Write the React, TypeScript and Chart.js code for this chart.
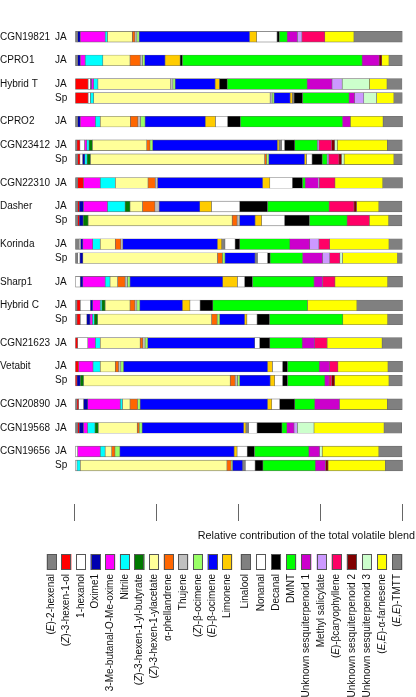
import React, { useEffect, useRef } from 'react';
import { Chart, registerables } from 'chart.js';

Chart.register(...registerables);

const FONT = '"Liberation Sans", Arial, Helvetica, sans-serif';

// Compounds (stack order = legend order)
const compounds = [
  '(E)-2-hexenal', '(Z)-3-hexen-1-ol', '1-hexanol', 'Oxime1', '3-Me-butanal-O-Me-oxime',
  'Nitrile', '(Z)-3-hexen-1-yl-butyrate', '(Z)-3-hexen-1-ylacetate', 'α-phellandrene', 'Thujene',
  '(Z)-β-ocimene', '(E)-β-ocimene', 'Limonene', 'Linalool', 'Nonanal', 'Decanal', 'DMNT',
  'Unknown sesquiterpenoid 1', 'Methyl salicylate', '(E)-βcaryophyllene', 'Unknown sesquiterpenoid 2',
  'Unknown sesquiterpenoid 3', '(E,E)-α-farnesene', '(E,E)-TMTT',
];

const compoundColors = [
  '#808080', '#ff0000', '#ffffff', '#0000b0', '#ff00ff',
  '#00ffff', '#007a00', '#ffff99', '#ff6600', '#c0c0c0',
  '#99ff66', '#0000ff', '#ffcc00', '#808080', '#ffffff', '#000000', '#00ff00',
  '#cc00cc', '#cc99ff', '#ff0066', '#800000',
  '#ccffcc', '#ffff00', '#808080',
];

// Rows (top to bottom)
const rowCultivar = [
  'CGN19821', 'CPRO1', 'Hybrid T', 'Hybrid T', 'CPRO2', 'CGN23412', 'CGN23412', 'CGN22310',
  'Dasher', 'Dasher', 'Korinda', 'Korinda', 'Sharp1', 'Hybrid C', 'Hybrid C', 'CGN21623',
  'Vetabit', 'Vetabit', 'CGN20890', 'CGN19568', 'CGN19656', 'CGN19656',
];
const rowTreatment = [
  'JA', 'JA', 'JA', 'Sp', 'JA', 'JA', 'Sp', 'JA',
  'JA', 'Sp', 'JA', 'Sp', 'JA', 'JA', 'Sp', 'JA',
  'JA', 'Sp', 'JA', 'JA', 'JA', 'Sp',
];

// Relative contribution (%) per compound, in compound order
const vCGN19821_JA = [0.7, 0, 0, 0.8, 7.6, 0.7, 0, 7.6, 0.8, 0.6, 0.7, 33.7, 2.2, 0, 6.2, 0.7, 2.4, 3.1, 1.4, 7.0, 0, 0, 8.9, 14.8];
const vCPRO1_JA = [0.7, 0, 0, 0.8, 1.5, 5.4, 0, 8.3, 3.1, 0.7, 0.7, 6.2, 4.6, 0, 0, 0.7, 54.9, 5.2, 0, 0, 0.8, 0, 2.2, 4.1];
const vHybridT_JA = [0, 3.9, 0.7, 0.3, 0.7, 1.3, 0, 22.2, 0, 0.7, 0.7, 12.2, 1.3, 0, 0, 2.4, 24.4, 7.6, 3.1, 0, 0, 8.3, 5.4, 4.6];
const vHybridT_Sp = [0, 3.9, 0.7, 0, 0, 1.0, 0, 53.9, 0, 0.6, 0.6, 4.9, 0.7, 0.5, 0, 2.6, 14.2, 1.7, 2.8, 0, 0, 3.9, 5.3, 2.6];
const vCPRO2_JA = [0.7, 0, 0, 0.8, 4.6, 1.5, 0, 9.2, 2.3, 0.8, 1.4, 18.4, 3.1, 0, 3.7, 3.9, 31.2, 2.4, 0, 0, 0, 0, 10.0, 6.1];
const vCGN23412_JA = [0.5, 0.9, 1.4, 0, 0.7, 0.7, 1.0, 16.6, 1.0, 0, 0.8, 38.1, 0.5, 0.8, 0.9, 3.1, 6.9, 0, 0.5, 3.9, 0.9, 0.8, 15.3, 4.6];
const vCGN23412_Sp = [0.7, 0.7, 0.8, 0.7, 0, 0.7, 1.0, 53.2, 0.6, 0, 0.7, 10.9, 0.6, 0, 1.7, 3.1, 1.5, 0, 0.5, 3.1, 0.8, 0.8, 15.2, 2.6];
const vCGN22310_JA = [0.7, 1.8, 0, 0, 5.1, 4.6, 0, 10.0, 2.2, 0.7, 0, 32.1, 2.2, 0, 6.9, 3.1, 0.8, 4.0, 0.3, 4.8, 0, 0, 14.6, 6.1];
const vDasher_JA = [0.7, 0.5, 0, 1.3, 7.3, 5.4, 1.5, 3.8, 3.8, 1.3, 0, 12.4, 3.6, 0, 8.6, 8.5, 18.8, 0, 0, 7.6, 0.8, 0, 6.8, 7.1];
const vDasher_Sp = [0.7, 0.5, 0, 1.2, 0, 0, 1.5, 44.0, 1.5, 0.8, 0, 4.7, 2.0, 0, 7.0, 7.6, 11.5, 0, 0, 6.8, 0, 0, 5.9, 4.1];
const vKorinda_JA = [1.2, 0, 0.4, 0.7, 3.0, 2.3, 0, 4.6, 1.7, 0.6, 0, 28.9, 1.3, 1.0, 3.1, 1.4, 15.3, 6.1, 2.8, 3.3, 0, 0, 18.1, 4.1];
const vKorinda_Sp = [0.7, 0, 0.7, 0.9, 0, 0, 0, 41.1, 1.5, 0, 0.8, 9.2, 0, 0.7, 3.1, 0.8, 9.9, 6.1, 2.2, 3.1, 0, 0.8, 16.8, 1.5];
const vSharp1_JA = [0, 0, 1.5, 0.8, 6.8, 1.5, 0, 2.3, 2.3, 0.7, 0.8, 28.3, 4.5, 0, 2.2, 2.4, 18.8, 2.6, 0, 3.8, 0, 0, 16.1, 4.6];
const vHybridC_JA = [0.5, 1.0, 3.1, 0.7, 2.3, 0.5, 1.0, 7.6, 1.5, 0.6, 0.9, 13.0, 2.3, 0, 3.1, 3.9, 28.9, 0, 0, 0, 0, 0, 15.1, 14.0];
const vHybridC_Sp = [0.5, 1.0, 2.0, 1.0, 0.7, 0.6, 1.0, 34.8, 1.7, 0, 0.8, 7.6, 0.7, 0, 3.1, 3.8, 22.4, 0, 0, 0, 0, 0, 13.7, 4.6];
const vCGN21623_JA = [0, 0.7, 3.1, 0, 2.3, 1.5, 0, 12.2, 0.8, 0.7, 0.8, 32.7, 0, 0, 1.5, 3.1, 9.9, 3.8, 0, 3.8, 0, 0, 16.8, 6.1];
const vVetabit_JA = [0, 1.0, 0, 0, 4.4, 2.2, 0, 4.6, 1.0, 0.7, 0.8, 44.0, 1.5, 0, 3.1, 1.5, 9.7, 3.1, 0, 2.6, 0, 0, 15.3, 4.6];
const vVetabit_Sp = [0, 0.5, 0, 1.0, 0, 0, 1.0, 44.8, 1.5, 0.7, 0.7, 9.3, 1.4, 0, 2.4, 1.5, 11.4, 1.3, 0, 0.8, 0.9, 0, 16.6, 4.1];
const vCGN20890_JA = [0.5, 0.5, 1.5, 1.3, 9.9, 0.7, 0, 2.3, 2.3, 0, 0.8, 38.9, 1.3, 0, 2.4, 4.6, 6.1, 7.6, 0, 0, 0, 0, 14.6, 4.6];
const vCGN19568_JA = [0.7, 0.5, 0, 1.3, 1.2, 2.3, 1.0, 11.9, 0.6, 0, 0.9, 31.0, 0.7, 0.8, 2.6, 7.6, 1.5, 2.2, 1.0, 0, 0, 5.1, 21.4, 5.4];
const vCGN19656_JA = [0, 0, 0.7, 0, 6.9, 1.5, 0, 2.0, 1.0, 0, 1.5, 34.9, 0.9, 0, 3.1, 2.2, 16.6, 3.3, 0, 0, 0, 0.8, 17.3, 7.1];
const vCGN19656_Sp = [0, 0, 0.5, 0, 0, 1.0, 0, 44.8, 1.3, 0, 0.4, 3.1, 0, 0.8, 3.0, 2.4, 16.0, 3.1, 0, 0, 0.8, 0, 17.5, 5.4];

const rowValues = [
  vCGN19821_JA, vCPRO1_JA, vHybridT_JA, vHybridT_Sp, vCPRO2_JA, vCGN23412_JA, vCGN23412_Sp, vCGN22310_JA,
  vDasher_JA, vDasher_Sp, vKorinda_JA, vKorinda_Sp, vSharp1_JA, vHybridC_JA, vHybridC_Sp, vCGN21623_JA,
  vVetabit_JA, vVetabit_Sp, vCGN20890_JA, vCGN19568_JA, vCGN19656_JA, vCGN19656_Sp,
];

const tickValues = [0, 25, 50, 75, 100];
const axisTitle = 'Relative contribution of the total volatile blend';

// layout of rows: 1 unit between rows of same cultivar, larger gap between cultivars
const GROUP_GAP = 1.6875;
const rowPos: number[] = [];
rowCultivar.forEach((c, i) => {
  if (i === 0) rowPos.push(0);
  else rowPos.push(rowPos[i - 1] + (c === rowCultivar[i - 1] ? 1 : GROUP_GAP));
});

function splitItalic(label: string) {
  const parts: { text: string; italic: boolean }[] = [];
  const re = /\(([EZ](?:,[EZ])?)\)/g;
  let last = 0;
  let m: RegExpExecArray | null;
  while ((m = re.exec(label))) {
    if (m.index > last) parts.push({ text: label.slice(last, m.index), italic: false });
    parts.push({ text: '(', italic: false });
    parts.push({ text: m[1], italic: true });
    parts.push({ text: ')', italic: false });
    last = m.index + m[0].length;
  }
  if (last < label.length) parts.push({ text: label.slice(last), italic: false });
  return parts;
}

const labelsPlugin = {
  id: 'customLabels',
  afterDraw(chart: any) {
    const ctx = chart.ctx as CanvasRenderingContext2D;
    const ys = chart.scales.y;
    const xs = chart.scales.x;
    const area = chart.chartArea;
    ctx.save();
    ctx.fillStyle = '#111';
    ctx.textBaseline = 'middle';
    ctx.textAlign = 'left';
    ctx.font = `10px ${FONT}`;
    rowCultivar.forEach((c, i) => {
      const py = ys.getPixelForValue(rowPos[i]);
      if (i === 0 || c !== rowCultivar[i - 1]) ctx.fillText(c, 0, py);
      ctx.fillText(rowTreatment[i], 55, py);
    });

    // tick marks
    ctx.strokeStyle = '#666';
    ctx.lineWidth = 1;
    const top = area.bottom;
    tickValues.forEach((v) => {
      const px = Math.round(xs.getPixelForValue(v)) - 0.5;
      ctx.beginPath();
      ctx.moveTo(px, top);
      ctx.lineTo(px, top + 17);
      ctx.stroke();
    });

    // axis title
    ctx.font = `10.8px ${FONT}`;
    ctx.textAlign = 'right';
    ctx.fillText(axisTitle, 415, top + 32);

    // legend
    const sqTop = top + 50;
    const sqH = 16;
    const sqW = 10;
    compounds.forEach((name, i) => {
      const xc = i < 13 ? 51.7 + i * 14.63 : 245.7 + (i - 13) * 15.16;
      ctx.fillStyle = compoundColors[i];
      ctx.fillRect(xc - sqW / 2, sqTop, sqW, sqH);
      ctx.strokeStyle = '#555';
      ctx.lineWidth = 1;
      ctx.strokeRect(Math.round(xc - sqW / 2) + 0.5, sqTop + 0.5, sqW - 1, sqH - 1);

      const parts = splitItalic(name);
      let total = 0;
      parts.forEach((p) => {
        ctx.font = `${p.italic ? 'italic ' : ''}10px ${FONT}`;
        total += ctx.measureText(p.text).width;
      });
      ctx.save();
      ctx.translate(xc, sqTop + sqH + 4);
      ctx.rotate(-Math.PI / 2);
      ctx.fillStyle = '#111';
      ctx.textAlign = 'left';
      ctx.textBaseline = 'middle';
      let cx = -total;
      parts.forEach((p) => {
        ctx.font = `${p.italic ? 'italic ' : ''}10px ${FONT}`;
        ctx.fillText(p.text, cx, 0);
        cx += ctx.measureText(p.text).width;
      });
      ctx.restore();
    });
    ctx.restore();
  },
};

export default function App() {
  const ref = useRef<HTMLCanvasElement | null>(null);
  useEffect(() => {
    if (!ref.current) return;
    const datasets = compounds.map((name, k) => ({
      label: name,
      backgroundColor: compoundColors[k],
      borderColor: '#6a6a6a',
      borderWidth: 0.6,
      borderSkipped: false as const,
      barThickness: 10.6,
      data: rowValues
        .map((vals, i) => ({ x: vals[k], y: rowPos[i] }))
        .filter((d) => d.x > 0),
    }));
    const chart = new Chart(ref.current, {
      type: 'bar',
      data: { datasets },
      options: {
        indexAxis: 'y',
        animation: false,
        responsive: false,
        devicePixelRatio: 1,
        layout: { padding: { left: 75.3, right: 13.3, top: 0, bottom: 193 } },
        plugins: { legend: { display: false }, tooltip: { enabled: false } },
        scales: {
          x: { type: 'linear', min: 0, max: 100, stacked: true, display: false },
          y: {
            type: 'linear',
            reverse: true,
            min: -0.375,
            max: rowPos[rowPos.length - 1] + 0.5,
            stacked: true,
            display: false,
          },
        },
      },
      plugins: [labelsPlugin],
    });
    return () => chart.destroy();
  }, []);
  return (
    <div style={{ position: 'absolute', left: 0, top: 0, width: 416, height: 697, background: '#fff' }}>
      <canvas ref={ref} width={416} height={697} style={{ display: 'block' }} />
    </div>
  );
}
